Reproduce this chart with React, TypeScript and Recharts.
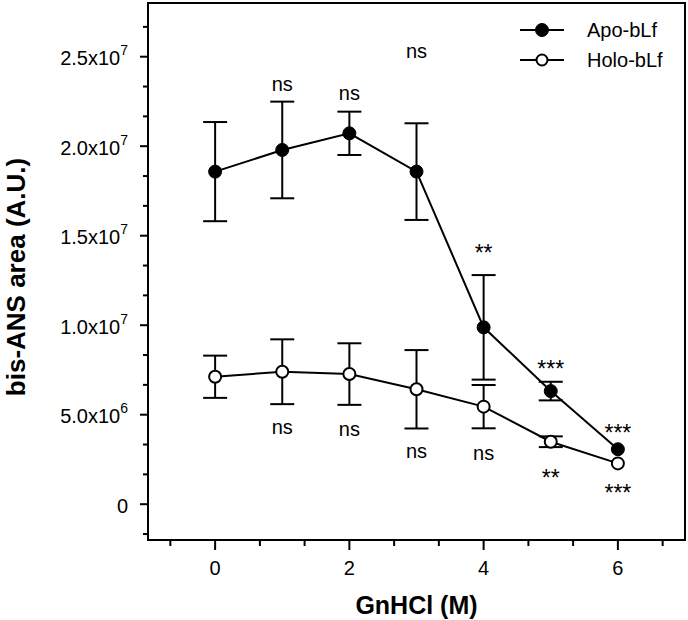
import React from "react";
import {
  ComposedChart,
  Line,
  Scatter,
  XAxis,
  YAxis,
  ErrorBar,
  ReferenceArea,
  Legend,
  Label,
} from "recharts";

const FONT = '"Liberation Sans", Arial, sans-serif';

// GnHCl concentration (M)
const gnhcl = [0, 1, 2, 3, 4, 5, 6];

// bis-ANS area (A.U.)
const apoArea = [1.858e7, 1.979e7, 2.072e7, 1.858e7, 9.88e6, 6.32e6, 3.07e6];
const apoErr = [2.77e6, 2.7e6, 1.21e6, 2.7e6, 2.92e6, 5.2e5, 0];
const holoArea = [7.12e6, 7.4e6, 7.27e6, 6.42e6, 5.45e6, 3.49e6, 2.28e6];
const holoErr = [1.18e6, 1.81e6, 1.72e6, 2.19e6, 1.21e6, 3.0e5, 0];

// significance marks (text anchor in data units)
const apoSig = ["", "ns", "ns", "ns", "**", "***", "***"];
const apoSigAt = [0, 2.35e7, 2.3e7, 2.53e7, 1.405e7, 7.58e6, 4.0e6];
const holoSig = ["", "ns", "ns", "ns", "ns", "**", "***"];
const holoSigAt = [0, 4.3e6, 4.18e6, 3.0e6, 2.84e6, 1.49e6, 6.5e5];

const seriesNames = ["Apo-bLf", "Holo-bLf"];
const seriesFill = ["#000", "#fff"];

const xMajor = [0, 2, 4, 6];
const xMinor = [-0.667, 0.667, 1.333, 2.667, 3.333, 4.667, 5.333, 6.667];
const yMajor = [0, 5e6, 1e7, 1.5e7, 2e7, 2.5e7];
const yMantissa = ["0", "5.0", "1.0", "1.5", "2.0", "2.5"];
const yExp = ["", "6", "7", "7", "7", "7"];
const yMinor = [
  -1.667e6, 1.667e6, 3.333e6, 6.667e6, 8.333e6, 1.1667e7, 1.3333e7, 1.6667e7,
  1.8333e7, 2.1667e7, 2.3333e7, 2.6667e7,
];

const rows = gnhcl.map((x, i) => ({
  x,
  apo: apoArea[i],
  apoErr: apoErr[i],
  holo: holoArea[i],
  holoErr: holoErr[i],
}));

const apoMarks = gnhcl
  .map((x, i) => ({ x, y: apoSigAt[i], label: apoSig[i] }))
  .filter((d) => d.label);
const holoMarks = gnhcl
  .map((x, i) => ({ x, y: holoSigAt[i], label: holoSig[i] }))
  .filter((d) => d.label);

const XTick = (props: any) => {
  const { x, y, payload } = props;
  const major = xMajor.includes(payload.value);
  return (
    <g>
      <line x1={x} x2={x} y1={y} y2={y + (major ? 10 : 6)} stroke="#000" strokeWidth={2} />
      {major && (
        <text x={x} y={y + 35} textAnchor="middle" fontSize={20} fontFamily={FONT} fill="#000">
          {payload.value}
        </text>
      )}
    </g>
  );
};

const YTick = (props: any) => {
  const { x, y, payload } = props;
  const idx = yMajor.indexOf(payload.value);
  const major = idx >= 0;
  return (
    <g>
      <line x1={x - (major ? 8 : 5)} x2={x} y1={y} y2={y} stroke="#000" strokeWidth={2} />
      {major && (
        <text
          x={x - 20}
          y={y + 1.5}
          textAnchor="end"
          dominantBaseline="central"
          fontSize={20}
          fontFamily={FONT}
          fill="#000"
        >
          {yExp[idx] ? (
            <>
              <tspan>{yMantissa[idx]}x10</tspan>
              <tspan dy={-8} fontSize={14}>
                {yExp[idx]}
              </tspan>
            </>
          ) : (
            yMantissa[idx]
          )}
        </text>
      )}
    </g>
  );
};

const FilledDot = (props: any) => {
  const { cx, cy } = props;
  if (cx == null || cy == null) return null;
  return <circle cx={cx} cy={cy} r={6.5} fill="#000" stroke="#000" strokeWidth={1} />;
};

const OpenDot = (props: any) => {
  const { cx, cy } = props;
  if (cx == null || cy == null) return null;
  return <circle cx={cx} cy={cy} r={6} fill="#fff" stroke="#000" strokeWidth={2} />;
};

const SigText = (props: any) => {
  const { cx, cy, payload } = props;
  const star = payload.label.startsWith("*");
  return (
    <text
      x={cx}
      y={cy}
      textAnchor="middle"
      dominantBaseline="central"
      fontSize={star ? 23 : 20}
      fontFamily={FONT}
      fill="#000"
    >
      {payload.label}
    </text>
  );
};

const YTitle = () => {
  const cx = 16;
  const cy = 277;
  return (
    <text
      x={cx}
      y={cy}
      transform={`rotate(-90 ${cx} ${cy})`}
      textAnchor="middle"
      dominantBaseline="central"
      fontSize={26}
      fontWeight="bold"
      fontFamily={FONT}
      fill="#000"
    >
      bis-ANS area (A.U.)
    </text>
  );
};

const XTitle = (props: any) => {
  const { viewBox } = props;
  const cx = viewBox.x + viewBox.width / 2;
  return (
    <text
      x={cx}
      y={605}
      textAnchor="middle"
      dominantBaseline="central"
      fontSize={25}
      fontWeight="bold"
      fontFamily={FONT}
      fill="#000"
    >
      GnHCl (M)
    </text>
  );
};

const LegendBox = () => (
  <div style={{ fontFamily: FONT, fontSize: 20, color: "#000" }}>
    {seriesNames.map((name, i) => (
      <div key={name} style={{ display: "flex", alignItems: "center", height: 30 }}>
        <svg width={44} height={20}>
          <line x1={0} x2={44} y1={10} y2={10} stroke="#000" strokeWidth={2} />
          <circle
            cx={22}
            cy={10}
            r={i === 0 ? 6.5 : 5.5}
            fill={seriesFill[i]}
            stroke="#000"
            strokeWidth={i === 0 ? 1 : 2}
          />
        </svg>
        <span style={{ marginLeft: 23 }}>{name}</span>
      </div>
    ))}
  </div>
);

export default function App() {
  return (
    <div style={{ position: "absolute", left: 0, top: 0, background: "#fff" }}>
      <ComposedChart
        width={688}
        height={620}
        data={rows}
        margin={{ top: 3, right: 3, bottom: 79, left: 147 }}
      >
        <XAxis
          type="number"
          dataKey="x"
          domain={[-1, 7]}
          ticks={[...xMinor, ...xMajor].sort((a, b) => a - b)}
          interval={0}
          height={1}
          tickSize={0}
          tickMargin={0}
          tickLine={false}
          tick={<XTick />}
          axisLine={{ stroke: "#000", strokeWidth: 2 }}
          allowDataOverflow
        >
          <Label content={<XTitle />} />
        </XAxis>
        <YAxis
          type="number"
          domain={[-2e6, 2.8e7]}
          ticks={[...yMinor, ...yMajor].sort((a, b) => a - b)}
          interval={0}
          width={1}
          tickSize={0}
          tickMargin={0}
          tickLine={false}
          tick={<YTick />}
          axisLine={{ stroke: "#000", strokeWidth: 2 }}
          allowDataOverflow
        >
          <Label content={<YTitle />} />
        </YAxis>
        <ReferenceArea
          x1={-1}
          x2={7}
          y1={-2e6}
          y2={2.8e7}
          fill="none"
          fillOpacity={0}
          stroke="#000"
          strokeWidth={2}
        />
        <Legend
          layout="vertical"
          align="center"
          verticalAlign="middle"
          content={<LegendBox />}
          wrapperStyle={{ left: 520, top: 15, width: 180 }}
        />
        <Line
          name={seriesNames[0]}
          dataKey="apo"
          type="linear"
          stroke="#000"
          strokeWidth={2}
          dot={<FilledDot />}
          activeDot={false}
          isAnimationActive={false}
        >
          <ErrorBar dataKey="apoErr" width={12} stroke="#000" strokeWidth={2} direction="y" />
        </Line>
        <Line
          name={seriesNames[1]}
          dataKey="holo"
          type="linear"
          stroke="#000"
          strokeWidth={2}
          dot={<OpenDot />}
          activeDot={false}
          isAnimationActive={false}
        >
          <ErrorBar dataKey="holoErr" width={12} stroke="#000" strokeWidth={2} direction="y" />
        </Line>
        <Scatter
          data={apoMarks}
          dataKey="y"
          legendType="none"
          shape={<SigText />}
          isAnimationActive={false}
        />
        <Scatter
          data={holoMarks}
          dataKey="y"
          legendType="none"
          shape={<SigText />}
          isAnimationActive={false}
        />
      </ComposedChart>
    </div>
  );
}
